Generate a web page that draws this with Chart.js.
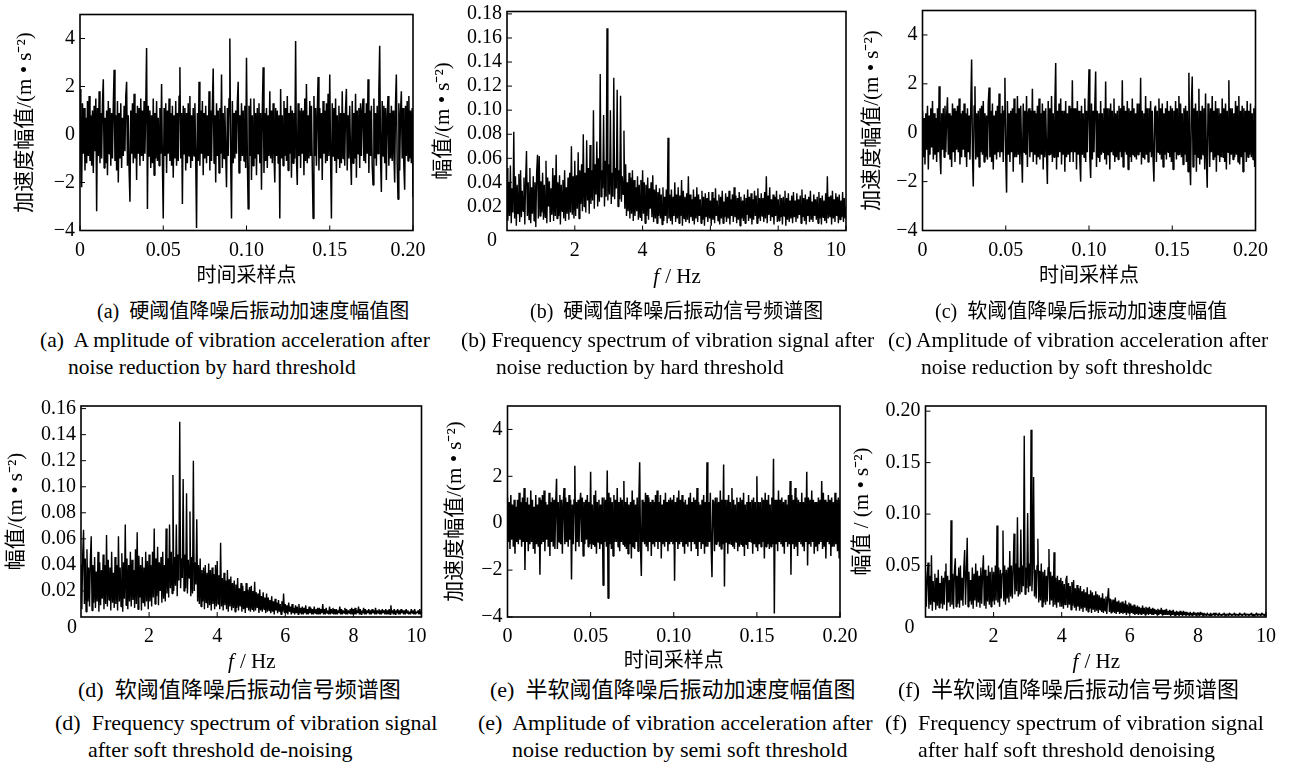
<!DOCTYPE html>
<html><head><meta charset="utf-8">
<script src="https://cdn.jsdelivr.net/npm/chart.js@4.4.1/dist/chart.umd.min.js"></script>
<style>
html,body{margin:0;padding:0;background:#fff;}
body{width:1289px;height:766px;position:relative;overflow:hidden;}
canvas.pc{position:absolute;}
.cap{position:absolute;white-space:pre;color:#000;font-family:"Liberation Serif","Noto Sans CJK SC",serif;line-height:24px;height:24px;}
.zh1{font-size:20px;}
.zh2{font-size:22px;}
.en1{font-size:21.5px;}
.en2{font-size:22px;}
</style></head><body>
<script>
// ---------------- data ----------------
const timeStep = 0.0005;  // s per sample
const freqStep = 0.025;   // Hz per bin

const timeTicks = [0, 0.05, 0.10, 0.15, 0.20];
const timeTickLabels = ['0', '0.05', '0.10', '0.15', '0.20'];
const accTicks = [-4, -2, 0, 2, 4];
const accTickLabels = ['\u22124', '\u22122', '0', '2', '4'];
const freqTicks = [2, 4, 6, 8, 10];
const freqTickLabels = ['2', '4', '6', '8', '10'];
const specTicksB = [0.02, 0.04, 0.06, 0.08, 0.10, 0.12, 0.14, 0.16, 0.18];
const specTickLabelsB = ['0.02', '0.04', '0.06', '0.08', '0.10', '0.12', '0.14', '0.16', '0.18'];
const specTicksD = [0.02, 0.04, 0.06, 0.08, 0.10, 0.12, 0.14, 0.16];
const specTickLabelsD = ['0.02', '0.04', '0.06', '0.08', '0.10', '0.12', '0.14', '0.16'];
const specTicksF = [0.05, 0.10, 0.15, 0.20];
const specTickLabelsF = ['0.05', '0.10', '0.15', '0.20'];

// (a) hard threshold, acceleration (m/s^2), one value per timeStep
const hardTime = [
1.9,-1.0,-2.2,1.3,-0.8,1.1,-1.5,0.7,-1.2,1.4,-0.9,1.6,-1.1,0.8,-1.3,1.0,-1.6,1.2,-0.7,1.5,
-3.2,1.1,-0.9,1.8,-1.2,0.9,-1.0,1.3,2.3,-1.4,0.7,-1.2,1.0,-1.7,1.4,-0.8,1.1,-1.3,0.9,-1.0,
1.2,2.7,-1.1,0.8,-1.5,1.4,-2.0,0.9,-1.0,1.3,-1.4,0.7,-0.9,1.2,-0.7,1.6,2.2,-1.3,0.8,-1.5,
-2.8,1.0,-0.8,1.3,-1.2,1.7,-1.0,0.9,-1.9,1.2,-0.8,1.1,-1.3,1.5,-0.9,1.0,-1.1,1.4,-0.8,1.2,
3.6,-3.1,1.2,-0.9,1.0,-1.4,0.8,-1.2,1.5,-1.7,0.9,-1.0,1.4,-1.1,0.7,-1.3,1.1,-0.8,2.1,-1.2,
-3.5,1.1,-0.9,1.3,-1.6,1.0,-0.8,1.5,-1.1,0.9,-1.3,1.2,-1.8,0.8,-1.0,1.4,-1.3,0.9,-1.1,1.6,
2.8,-1.0,0.9,-2.9,1.2,-0.8,1.1,-1.5,0.9,-1.2,1.3,-0.9,1.6,-1.4,0.8,-1.1,1.1,-0.9,1.3,-1.0,
-3.9,0.9,-1.1,2.2,-1.3,1.0,-0.8,1.4,-1.7,0.9,-1.0,1.2,-1.2,0.8,-0.9,1.8,-1.5,1.0,-1.1,1.2,
2.75,-1.2,0.8,-2.0,1.3,-0.9,1.0,-1.6,1.1,-0.8,2.5,-1.4,0.9,-1.0,1.2,-0.8,-2.2,1.1,-0.9,1.5,
4.0,-1.1,-3.5,1.4,-1.2,0.9,-1.0,1.0,-0.8,1.3,2.2,-1.6,0.8,-1.1,1.3,-0.9,1.0,-1.1,1.2,-1.4,
3.2,-1.0,-3.1,1.2,-0.9,1.5,-1.9,0.8,-1.3,1.5,-1.0,0.9,-1.7,1.1,-0.8,1.3,-1.2,0.9,-2.3,1.0,
2.8,-1.6,0.9,-1.1,1.1,-1.4,0.8,-0.9,1.8,-1.0,1.0,-1.2,1.3,-0.8,-2.0,1.1,-0.9,1.0,-1.2,0.8,
-3.5,1.9,-1.0,0.8,-1.3,1.4,-0.9,1.1,-1.1,1.6,-1.5,0.9,-0.8,1.2,-1.8,1.0,-1.2,0.9,-1.0,3.9,
-1.0,-2.1,1.3,-0.9,1.0,-1.4,1.1,-0.8,1.0,-1.7,1.5,-1.1,2.1,-1.2,0.8,-1.0,1.4,-0.9,1.2,-1.3,
-3.5,1.6,-0.9,1.1,-1.3,0.8,2.4,-1.5,1.1,-1.0,0.9,-1.9,1.4,-0.8,1.0,-1.2,1.3,-1.1,1.7,-0.9,
2.5,-1.0,-3.5,1.3,-0.9,1.1,-1.1,1.5,-1.6,0.8,-1.0,1.2,-1.4,0.9,-1.2,1.8,-1.0,0.9,-1.3,1.1,
1.9,-1.5,0.8,-1.0,1.2,-0.9,-2.1,1.4,-1.2,0.9,-1.0,1.7,-1.8,1.0,-0.8,1.1,-1.4,1.3,-0.9,1.0,
1.5,-1.1,0.9,-1.2,1.3,-0.8,2.3,-1.6,1.0,-0.9,1.2,-1.3,-2.1,1.5,-1.0,0.9,-1.3,1.2,-0.8,1.8,
3.7,-1.0,-2.4,1.4,-0.9,1.2,-1.2,1.1,-1.9,0.8,1.6,-1.3,0.9,-1.0,1.2,-1.1,1.0,-0.8,-2.0,1.3,
2.5,-1.2,-2.7,1.3,-1.5,0.9,1.8,-1.0,1.1,-1.3,-2.3,1.2,-0.9,1.4,-1.1,1.6,-1.0,1.0,-1.2,1.1,
-2.6
];

// (b) hard threshold, spectrum amplitude, one value per freqStep
const hardSpec = [
0.052,0.008,0.040,0.012,0.054,0.006,0.035,0.015,0.082,0.010,0.045,0.004,0.038,0.014,0.047,0.007,0.050,0.011,0.033,0.016,
0.044,0.005,0.042,0.066,0.012,0.040,0.009,0.052,0.006,0.036,0.014,0.045,0.008,0.040,0.003,0.048,0.063,0.010,0.062,0.012,
0.041,0.015,0.048,0.009,0.038,0.011,0.058,0.006,0.044,0.020,0.041,0.007,0.035,0.013,0.052,0.008,0.046,0.012,0.063,0.010,
0.040,0.012,0.046,0.005,0.038,0.016,0.042,0.010,0.050,0.008,0.036,0.014,0.044,0.009,0.048,0.015,0.070,0.013,0.045,0.010,
0.058,0.012,0.046,0.018,0.065,0.010,0.050,0.022,0.055,0.016,0.080,0.020,0.048,0.015,0.075,0.025,0.052,0.014,0.071,0.022,
0.050,0.025,0.100,0.018,0.055,0.030,0.074,0.020,0.060,0.024,0.130,0.028,0.050,0.035,0.096,0.020,0.058,0.028,0.168,0.025,
0.055,0.030,0.100,0.022,0.048,0.028,0.127,0.026,0.052,0.035,0.117,0.020,0.050,0.026,0.112,0.024,0.045,0.030,0.083,0.018,
0.055,0.012,0.040,0.016,0.048,0.010,0.044,0.014,0.050,0.008,0.042,0.012,0.036,0.016,0.045,0.009,0.038,0.011,0.042,0.008,
0.050,0.014,0.040,0.006,0.038,0.012,0.044,0.009,0.035,0.018,0.040,0.011,0.046,0.007,0.034,0.010,0.038,0.006,0.032,0.012,
0.035,0.010,0.030,0.005,0.036,0.008,0.028,0.012,0.034,0.006,0.077,0.010,0.030,0.008,0.034,0.005,0.028,0.012,0.040,0.007,
0.030,0.010,0.036,0.006,0.029,0.012,0.042,0.004,0.033,0.010,0.028,0.007,0.031,0.009,0.045,0.006,0.030,0.011,0.026,0.008,
0.034,0.005,0.028,0.010,0.036,0.007,0.030,0.012,0.026,0.006,0.033,0.009,0.028,0.004,0.031,0.011,0.027,0.007,0.032,0.010,
0.025,0.004,0.032,0.009,0.027,0.006,0.035,0.012,0.025,0.008,0.030,0.005,0.028,0.010,0.033,0.006,0.024,0.011,0.031,0.007,
0.028,0.010,0.033,0.005,0.026,0.012,0.030,0.007,0.036,0.011,0.029,0.006,0.027,0.009,0.032,0.004,0.028,0.010,0.025,0.008,
0.030,0.006,0.027,0.013,0.034,0.008,0.028,0.010,0.031,0.005,0.026,0.009,0.033,0.012,0.029,0.006,0.035,0.010,0.027,0.008,
0.031,0.012,0.027,0.007,0.032,0.010,0.045,0.006,0.029,0.013,0.036,0.008,0.026,0.011,0.030,0.005,0.028,0.012,0.033,0.007,
0.026,0.008,0.030,0.011,0.027,0.005,0.028,0.012,0.033,0.004,0.027,0.009,0.031,0.007,0.025,0.010,0.029,0.006,0.032,0.011,
0.025,0.007,0.031,0.010,0.026,0.013,0.029,0.006,0.034,0.011,0.027,0.008,0.030,0.005,0.026,0.012,0.028,0.007,0.033,0.009,
0.024,0.007,0.030,0.012,0.026,0.009,0.028,0.006,0.032,0.010,0.027,0.005,0.029,0.011,0.025,0.008,0.031,0.006,0.045,0.010,
0.028,0.011,0.029,0.005,0.033,0.010,0.026,0.007,0.031,0.012,0.028,0.006,0.030,0.009,0.025,0.011,0.032,0.007,0.027,0.010,
0.020
];

// (c) soft threshold, acceleration
const softTime = [
0.9,-1.0,0.6,-1.3,0.8,-0.7,1.1,-1.5,0.7,-0.9,1.0,-0.6,1.3,-1.1,0.8,-0.9,0.6,-1.2,1.0,-0.8,
1.9,-0.9,-1.7,0.8,-0.7,1.0,-1.0,1.1,-0.8,0.7,1.45,-0.9,0.8,-1.1,0.7,-1.4,1.2,-0.8,1.0,-1.2,
0.9,-0.7,1.1,-0.8,1.4,-1.3,0.8,-1.0,0.9,-0.7,1.2,-1.0,0.8,-1.4,1.0,-0.8,0.7,-1.1,1.0,3.0,
-0.9,-2.2,1.1,1.9,-1.1,0.8,-1.0,0.9,-1.4,1.0,-0.8,1.1,-0.9,1.3,-1.2,0.8,-1.0,0.7,-1.1,1.2,
1.85,-1.0,0.9,-1.2,1.2,-1.5,0.7,-0.9,0.9,-1.1,1.1,-0.8,1.6,-1.0,0.8,-0.8,1.1,-1.2,0.9,2.25,
-1.0,-2.45,1.3,-0.9,0.8,-1.2,0.9,-0.8,1.0,-1.6,1.4,-1.0,0.8,-1.0,1.5,-0.9,1.0,-1.3,1.1,-0.8,
-2.05,1.2,-0.8,0.9,-0.9,1.5,-1.4,0.8,1.0,-1.0,0.9,-0.8,1.8,-1.2,0.9,-0.9,0.8,-1.3,1.1,-1.0,
1.4,-1.1,0.8,-0.9,1.2,-1.5,0.9,-1.0,1.0,-0.8,-2.1,1.3,-0.9,1.0,-0.9,1.5,-1.2,0.8,-1.0,1.1,
2.85,-1.5,0.9,-1.0,1.2,-0.8,1.4,-1.3,0.9,-0.9,0.9,-1.6,1.3,-1.0,0.8,-0.9,1.1,-1.2,1.0,-0.8,
2.15,-1.2,1.0,-0.8,1.0,-1.5,1.3,-0.9,0.9,-1.1,-2.0,1.1,-0.9,0.8,-1.0,1.4,-1.2,0.9,-0.8,1.0,
2.6,-1.0,-1.85,1.2,-1.1,0.9,-0.8,1.1,2.5,-1.4,0.9,-1.0,0.8,-1.2,1.3,-0.9,0.8,-0.8,1.0,-1.1,
2.1,-1.3,1.0,-0.9,1.0,-1.5,1.2,-0.8,0.9,-0.9,1.4,-1.2,0.8,-1.0,0.9,-1.1,1.1,-0.8,1.0,-1.0,
2.15,-1.4,1.1,-0.8,0.9,-0.9,1.3,-1.5,1.0,-1.0,0.9,-1.2,1.4,-0.9,1.0,-1.0,0.8,-1.1,1.2,-0.9,
1.2,-0.8,2.25,-1.3,0.9,-1.0,0.8,-1.1,1.5,-0.9,1.0,-1.2,1.0,-0.8,1.3,-1.0,0.9,-1.1,-2.0,1.0,
1.1,-1.2,0.9,-0.8,1.4,-0.9,1.0,-1.1,1.2,-1.4,0.8,-0.9,1.0,-1.1,1.3,-0.8,0.9,-1.0,1.1,-1.2,
1.0,-1.5,0.9,-0.8,1.3,-1.1,1.0,-0.9,1.5,-0.9,1.2,-1.0,0.8,-1.3,1.0,-0.9,1.1,-1.2,0.9,-1.6,
2.45,-1.0,-2.15,1.1,2.3,-1.4,1.0,-0.9,1.2,-1.6,0.9,-1.0,1.8,-1.3,0.9,-1.1,1.1,-0.9,1.0,-1.5,
1.6,-1.0,-2.25,1.2,0.9,-1.4,1.0,-0.8,1.5,-1.1,0.9,-1.0,1.3,-1.6,1.0,-0.9,1.0,-1.2,0.8,-1.0,
1.4,-1.0,1.0,-1.2,1.2,-1.5,0.9,-0.8,2.15,-1.3,1.0,-0.9,1.0,-1.1,0.8,-1.0,1.3,-0.9,1.1,-1.2,
1.5,-1.3,0.9,-1.0,1.1,-1.6,1.0,-0.8,0.9,-1.2,1.3,-1.0,0.9,-0.9,1.2,-1.0,0.8,-1.1,1.0,-1.4,
1.1
];

// (d) soft threshold, spectrum amplitude
const softSpec = [
0.040,0.006,0.048,0.067,0.010,0.045,0.004,0.052,0.012,0.038,0.008,0.044,0.062,0.005,0.040,0.011,0.046,0.007,0.035,0.012,
0.050,0.004,0.042,0.009,0.036,0.014,0.048,0.006,0.040,0.010,0.063,0.008,0.044,0.013,0.038,0.005,0.050,0.011,0.034,0.007,
0.046,0.010,0.040,0.005,0.062,0.012,0.038,0.008,0.049,0.004,0.042,0.014,0.071,0.009,0.045,0.006,0.040,0.012,0.050,0.008,
0.044,0.013,0.036,0.007,0.052,0.010,0.065,0.006,0.047,0.015,0.040,0.005,0.046,0.011,0.038,0.008,0.050,0.012,0.043,0.006,
0.048,0.012,0.040,0.008,0.050,0.015,0.068,0.010,0.045,0.016,0.054,0.009,0.042,0.020,0.046,0.011,0.050,0.014,0.040,0.012,
0.068,0.018,0.045,0.015,0.071,0.022,0.050,0.018,0.109,0.020,0.046,0.024,0.071,0.016,0.048,0.028,0.150,0.022,0.045,0.030,
0.106,0.020,0.048,0.022,0.095,0.018,0.044,0.030,0.081,0.016,0.046,0.018,0.120,0.020,0.042,0.025,0.075,0.012,0.040,0.010,
0.045,0.008,0.036,0.012,0.038,0.006,0.040,0.011,0.034,0.007,0.041,0.009,0.036,0.005,0.038,0.010,0.033,0.006,0.040,0.008,
0.043,0.010,0.032,0.006,0.057,0.008,0.030,0.005,0.034,0.009,0.028,0.006,0.036,0.004,0.029,0.008,0.031,0.005,0.026,0.007,
0.028,0.004,0.025,0.007,0.030,0.005,0.022,0.008,0.026,0.004,0.024,0.006,0.020,0.003,0.026,0.007,0.021,0.005,0.023,0.004,
0.024,0.006,0.020,0.004,0.027,0.005,0.019,0.007,0.018,0.003,0.021,0.005,0.016,0.004,0.019,0.006,0.015,0.003,0.018,0.004,
0.015,0.005,0.013,0.003,0.016,0.004,0.012,0.002,0.014,0.005,0.011,0.003,0.013,0.004,0.010,0.002,0.012,0.004,0.018,0.003,
0.010,0.003,0.009,0.002,0.011,0.004,0.008,0.002,0.010,0.003,0.007,0.002,0.009,0.003,0.008,0.002,0.010,0.003,0.007,0.002,
0.008,0.002,0.007,0.003,0.009,0.002,0.006,0.002,0.008,0.003,0.007,0.002,0.006,0.002,0.008,0.003,0.006,0.002,0.007,0.002,
0.007,0.002,0.006,0.003,0.010,0.002,0.006,0.002,0.007,0.003,0.005,0.002,0.008,0.002,0.006,0.003,0.007,0.002,0.006,0.002,
0.006,0.002,0.005,0.003,0.008,0.002,0.006,0.002,0.005,0.003,0.007,0.002,0.006,0.002,0.005,0.003,0.006,0.002,0.007,0.002,
0.006,0.002,0.007,0.002,0.005,0.003,0.008,0.002,0.006,0.002,0.005,0.003,0.007,0.002,0.006,0.002,0.005,0.003,0.006,0.002,
0.005,0.002,0.006,0.003,0.005,0.002,0.007,0.002,0.005,0.003,0.006,0.002,0.005,0.002,0.006,0.003,0.005,0.002,0.006,0.002,
0.005,0.002,0.006,0.002,0.009,0.003,0.005,0.002,0.006,0.002,0.005,0.003,0.006,0.002,0.005,0.002,0.006,0.003,0.005,0.002,
0.005,0.002,0.006,0.003,0.005,0.002,0.004,0.002,0.006,0.003,0.005,0.002,0.006,0.002,0.004,0.003,0.005,0.002,0.006,0.002,
0.003
];

// (e) semi-soft threshold, acceleration
const semiTime = [
1.1,-0.8,0.9,-1.1,1.2,-0.7,0.8,-1.0,1.0,-1.3,0.7,-0.8,1.0,-0.9,1.3,-0.7,0.9,-1.0,1.1,-0.8,
1.5,-2.0,0.9,-0.8,1.1,-1.2,0.8,-0.9,1.4,-0.8,1.0,-1.1,0.7,-1.3,1.2,-0.9,0.8,-1.0,1.1,-2.2,
1.0,-0.9,1.2,-0.8,1.4,-1.2,0.9,-0.7,0.8,-1.0,1.3,-1.4,0.9,-0.8,1.1,-1.0,1.0,-1.1,0.8,1.9,
-1.1,0.9,-0.8,1.2,-0.9,1.0,-1.3,0.8,1.5,-0.9,1.1,-0.8,0.9,-1.0,1.2,-0.7,1.0,-2.4,0.8,-0.9,
1.0,2.45,-1.2,0.9,-0.8,1.0,-1.0,0.8,1.3,-0.8,1.1,-1.4,0.9,-0.9,1.0,-0.7,1.2,-1.0,0.9,-0.9,
2.2,-1.1,0.8,-0.9,1.2,-1.0,1.4,-1.3,0.9,-0.8,1.0,-1.1,0.8,-0.9,1.1,-2.65,1.1,-0.8,1.0,-1.0,
2.25,-3.2,1.3,-0.9,1.1,-1.1,0.9,-1.4,1.2,-0.8,1.0,-0.8,1.5,-1.0,0.9,-1.2,1.1,-0.8,1.0,-0.9,
1.8,-1.0,0.9,-1.1,1.1,-1.3,0.8,-0.9,0.9,-1.5,1.4,-1.0,1.0,-1.1,0.8,-0.8,1.1,-1.2,0.9,2.6,
-1.0,-2.25,1.0,-0.8,0.9,-0.9,1.3,-1.0,1.2,-1.2,1.1,-0.8,0.9,-1.4,1.0,-0.9,0.9,-1.0,1.2,-0.8,
1.4,-1.1,0.9,-0.8,1.2,-1.5,0.8,-0.9,1.0,-1.0,1.3,-0.8,0.9,-1.2,1.0,-0.9,1.1,-0.8,1.0,-0.9,
1.2,-2.45,0.9,-0.8,1.1,-1.1,1.4,-0.9,1.0,-0.8,1.2,-1.0,0.9,-1.3,1.0,-0.9,0.8,-1.0,1.1,-0.8,
1.3,-1.2,0.9,-0.8,1.1,-0.9,1.0,-1.1,1.5,-1.4,0.9,-0.8,0.8,-1.1,1.0,-0.9,1.2,-1.3,0.9,-1.0,
2.6,-1.0,0.9,-0.8,1.3,-1.0,-2.3,1.0,0.9,-1.2,1.1,-0.9,1.1,-0.8,0.9,-1.0,1.4,-1.1,1.0,-0.9,
2.5,-2.7,1.0,-0.8,1.0,-1.3,1.2,-0.9,0.9,-0.9,1.5,-1.0,1.0,-1.1,0.8,-0.8,1.1,-1.2,0.9,-1.0,
1.1,-0.9,1.0,-1.0,1.3,-1.4,0.8,-0.9,0.9,-1.1,1.2,-0.8,0.9,-0.8,1.0,-1.3,1.1,-0.9,0.9,-1.0,
2.0,-1.2,0.9,-0.9,0.9,-1.0,1.1,-0.8,1.0,-1.5,1.3,-1.0,1.0,-0.9,1.2,-1.1,0.8,-1.0,1.1,-0.9,
2.75,-3.85,1.0,-0.9,1.0,-1.2,1.4,-0.8,1.0,-0.9,1.1,-1.0,0.9,-1.3,1.0,-0.8,0.8,-1.0,1.2,-0.9,
1.8,-2.2,1.2,-0.9,1.0,-1.1,1.5,-1.0,1.1,-1.4,1.0,-0.8,0.9,-0.9,1.3,-1.0,0.9,-1.2,1.1,-0.8,
2.2,-1.8,1.1,-0.9,1.0,-1.0,1.4,-0.8,1.0,-1.3,0.9,-1.0,0.9,-1.2,1.1,-0.9,1.0,-0.8,1.8,-1.1,
1.3,-1.0,1.0,-1.5,0.9,-0.8,1.2,-0.9,1.0,-1.4,1.1,-1.0,0.9,-1.0,1.3,-0.9,1.0,-1.2,1.1,-1.5,
1.0
];

// (f) semi-soft threshold, spectrum amplitude
const semiSpec = [
0.045,0.010,0.038,0.053,0.008,0.040,0.012,0.060,0.006,0.035,0.015,0.042,0.007,0.038,0.011,0.046,0.009,0.033,0.013,0.040,
0.008,0.038,0.012,0.044,0.052,0.006,0.040,0.014,0.036,0.010,0.094,0.012,0.042,0.008,0.045,0.057,0.010,0.040,0.013,0.048,
0.009,0.050,0.016,0.038,0.011,0.047,0.065,0.012,0.040,0.077,0.010,0.044,0.015,0.036,0.012,0.048,0.008,0.042,0.016,0.052,
0.010,0.045,0.014,0.040,0.009,0.048,0.013,0.042,0.060,0.011,0.046,0.008,0.040,0.015,0.050,0.012,0.044,0.010,0.048,0.015,
0.044,0.012,0.050,0.016,0.089,0.014,0.048,0.010,0.046,0.018,0.042,0.084,0.015,0.050,0.012,0.046,0.018,0.048,0.014,0.064,
0.020,0.050,0.018,0.046,0.081,0.022,0.052,0.025,0.097,0.020,0.048,0.022,0.085,0.024,0.050,0.030,0.176,0.022,0.048,0.028,
0.101,0.024,0.052,0.030,0.182,0.025,0.048,0.136,0.020,0.046,0.018,0.050,0.076,0.014,0.045,0.016,0.052,0.010,0.044,0.014,
0.046,0.012,0.040,0.015,0.048,0.066,0.012,0.044,0.016,0.040,0.010,0.063,0.012,0.038,0.009,0.040,0.014,0.036,0.010,0.038,
0.010,0.035,0.008,0.032,0.012,0.036,0.040,0.009,0.033,0.012,0.030,0.007,0.034,0.011,0.036,0.009,0.028,0.006,0.031,0.010,
0.028,0.006,0.030,0.008,0.025,0.005,0.027,0.009,0.024,0.006,0.029,0.005,0.022,0.008,0.026,0.004,0.024,0.007,0.021,0.005,
0.025,0.006,0.022,0.004,0.021,0.007,0.019,0.005,0.023,0.004,0.018,0.006,0.020,0.003,0.019,0.028,0.005,0.018,0.004,0.017,
0.005,0.017,0.004,0.019,0.003,0.015,0.005,0.016,0.003,0.014,0.004,0.015,0.003,0.013,0.004,0.016,0.002,0.012,0.004,0.014,
0.003,0.013,0.004,0.011,0.003,0.012,0.002,0.010,0.003,0.011,0.002,0.010,0.003,0.009,0.002,0.011,0.003,0.009,0.002,0.010,
0.003,0.009,0.002,0.010,0.003,0.008,0.002,0.009,0.002,0.008,0.003,0.007,0.002,0.008,0.002,0.007,0.003,0.009,0.002,0.007,
0.002,0.007,0.002,0.008,0.002,0.006,0.002,0.007,0.001,0.006,0.002,0.007,0.002,0.005,0.001,0.006,0.002,0.005,0.001,0.006,
0.002,0.005,0.001,0.006,0.002,0.005,0.001,0.005,0.002,0.004,0.001,0.005,0.002,0.004,0.001,0.005,0.002,0.004,0.001,0.004,
0.002,0.004,0.001,0.005,0.002,0.004,0.001,0.004,0.002,0.003,0.001,0.004,0.002,0.003,0.001,0.004,0.001,0.003,0.002,0.004,
0.001,0.004,0.002,0.003,0.001,0.004,0.002,0.003,0.001,0.003,0.002,0.004,0.001,0.003,0.002,0.003,0.001,0.004,0.002,0.003,
0.001,0.003,0.002,0.004,0.001,0.003,0.002,0.003,0.001,0.004,0.002,0.003,0.001,0.003,0.002,0.004,0.001,0.003,0.002,0.003,
0.001,0.003,0.002,0.004,0.001,0.003,0.001,0.003,0.002,0.004,0.001,0.003,0.002,0.003,0.001,0.004,0.002,0.003,0.001,0.003,
0.002
];

const yTitleAcc = '加速度幅值/(m • s\u207B\u00B2)';
const yTitleAmp = '幅值/(m • s\u207B\u00B2)';
const yTitleAmpF = '幅值 / (m • s\u207B\u00B2)';
const xTitleTime = '时间采样点';
const xTitleFreq = ['f', ' / Hz'];

// ---------------- layout ----------------
const FONT = '"Liberation Serif", "Noto Sans CJK SC", serif';
const panels = [
  {values: hardTime, step: timeStep, xMin: 0, xMax: 0.2, yMin: -4, yMax: 5, lw: 1.5,
   xTicks: timeTicks, xLabels: ['0','0.05','0.10','0.15','0.20\u2002'], yTicks: accTicks, yLabels: accTickLabels,
   yTitle: yTitleAcc, xTitle: xTitleTime,
   box: [0, 0, 440, 292], plot: [80, 14.5, 413, 230.5], yTitleX: 25, xTitleY: 277},
  {values: hardSpec, step: freqStep, xMin: 0, xMax: 10, yMin: 0, yMax: 0.182, lw: 1.4,
   xTicks: freqTicks, xLabels: ['2','4','6','8','10\u2003'], yTicks: specTicksB, yLabels: specTickLabelsB,
   yTitle: yTitleAmp, xRich: xTitleFreq, origin: {text: '0', dx: -15, dy: 10},
   box: [430, 0, 440, 292], plot: [507, 11.5, 846, 230.5], yTitleX: 443, xTitleY: 277},
  {values: softTime, step: timeStep, xMin: 0, xMax: 0.2, yMin: -4, yMax: 5, lw: 1.5,
   xTicks: timeTicks, xLabels: ['0','0.05','0.10','0.15','0.20\u2002'], yTicks: accTicks, yLabels: accTickLabels,
   yTitle: yTitleAcc, xTitle: xTitleTime,
   box: [860, 0, 429, 292], plot: [922.5, 10.5, 1255.5, 230.5], yTitleX: 872, xTitleY: 277},
  {values: softSpec, step: freqStep, xMin: 0, xMax: 10, yMin: 0, yMax: 0.162, lw: 1.4,
   xTicks: freqTicks, xLabels: ['2','4','6','8','10\u2002'], yTicks: specTicksD, yLabels: specTickLabelsD,
   yTitle: yTitleAmp, xRich: xTitleFreq, origin: {text: '0', dx: -9, dy: 11},
   box: [0, 385, 440, 290], plot: [81, 406, 421.5, 617], yTitleX: 16, xTitleY: 662},
  {values: semiTime, step: timeStep, xMin: 0, xMax: 0.2, yMin: -4, yMax: 5, lw: 1.5,
   xTicks: timeTicks, xLabels: timeTickLabels, yTicks: accTicks, yLabels: accTickLabels,
   yTitle: yTitleAcc, xTitle: xTitleTime,
   box: [440, 385, 430, 290], plot: [507.5, 406, 840, 617], yTitleX: 455, xTitleY: 662},
  {values: semiSpec, step: freqStep, xMin: 0, xMax: 10, yMin: 0, yMax: 0.205, lw: 1.4,
   xTicks: freqTicks, xLabels: freqTickLabels, yTicks: specTicksF, yLabels: specTickLabelsF,
   yTitle: yTitleAmpF, xRich: xTitleFreq, origin: {text: '0', dx: -16, dy: 11},
   box: [845, 385, 444, 290], plot: [925.5, 406, 1266, 617], yTitleX: 862, xTitleY: 662}
];

const framePlugin = {
  id: 'frame',
  afterDraw(chart, args, opts) {
    const ctx = chart.ctx;
    const {left, top, right, bottom} = chart.chartArea;
    const xs = chart.scales.x, ys = chart.scales.y;
    ctx.save();
    ctx.strokeStyle = '#000';
    ctx.lineWidth = 1.6;
    ctx.strokeRect(left, top, right - left, bottom - top);
    ctx.lineWidth = 1;
    ctx.beginPath();
    xs.ticks.forEach(t => { const x = xs.getPixelForValue(t.value); ctx.moveTo(x, bottom); ctx.lineTo(x, bottom - 5); });
    ys.ticks.forEach(t => { const y = ys.getPixelForValue(t.value); ctx.moveTo(left, y); ctx.lineTo(left + 5, y); });
    ctx.stroke();
    ctx.fillStyle = '#000';
    if (opts.origin) {
      ctx.font = '20px ' + FONT;
      ctx.textAlign = 'center'; ctx.textBaseline = 'middle';
      ctx.fillText(opts.origin.text, left + opts.origin.dx, bottom + opts.origin.dy);
    }
    if (opts.rich) {
      const [a, b] = opts.rich.parts;
      ctx.textBaseline = 'middle'; ctx.textAlign = 'left';
      ctx.font = 'italic 21px ' + FONT; const wa = ctx.measureText(a).width;
      ctx.font = '21px ' + FONT; const wb = ctx.measureText(b).width;
      const x0 = (left + right) / 2 - (wa + wb) / 2;
      ctx.font = 'italic 21px ' + FONT; ctx.fillText(a, x0, opts.rich.y);
      ctx.font = '21px ' + FONT; ctx.fillText(b, x0 + wa + 1, opts.rich.y);
    }
    ctx.restore();
  }
};

panels.forEach(p => {
  const [cl, ct, cw, ch] = p.box;
  const [pl, pt, pr, pb] = p.plot;
  const cv = document.createElement('canvas');
  cv.className = 'pc';
  cv.width = cw; cv.height = ch;
  cv.style.left = cl + 'px'; cv.style.top = ct + 'px';
  cv.style.width = cw + 'px'; cv.style.height = ch + 'px';
  document.body.appendChild(cv);
  const pts = p.values.map((v, i) => ({x: Math.round(i * p.step * 100000) / 100000, y: v}));
  new Chart(cv, {
    type: 'line',
    data: {datasets: [{data: pts, borderColor: '#000', borderWidth: p.lw, borderJoinStyle: 'bevel',
                       pointRadius: 0, tension: 0, fill: false}]},
    options: {
      responsive: false, animation: false, devicePixelRatio: 1,
      parsing: false, normalized: true,
      layout: {padding: {left: 0, top: pt - ct, right: cl + cw - pr, bottom: 0}},
      plugins: {
        legend: {display: false}, tooltip: {enabled: false},
        frame: {origin: p.origin || null, rich: p.xRich ? {parts: p.xRich, y: p.xTitleY - ct} : null}
      },
      scales: {
        x: {
          type: 'linear', min: p.xMin, max: p.xMax,
          afterBuildTicks: s => { s.ticks = p.xTicks.map(v => ({value: v})); },
          afterFit: s => { s.height = ct + ch - pb; s.paddingLeft = 0; s.paddingRight = 0; },
          grid: {display: false, drawTicks: false}, border: {display: false},
          ticks: {autoSkip: false, maxRotation: 0, minRotation: 0, padding: 8, color: '#000',
                  font: {family: FONT, size: 20}, callback: (v, i) => p.xLabels[i]},
          title: {display: !!p.xTitle, text: p.xTitle || '', color: '#000', font: {family: FONT, size: 20},
                  padding: {top: 0, bottom: (ct + ch) - p.xTitleY - 12}}
        },
        y: {
          type: 'linear', min: p.yMin, max: p.yMax,
          afterBuildTicks: s => { s.ticks = p.yTicks.map(v => ({value: v})); },
          afterFit: s => { s.width = pl - cl; s.paddingTop = 0; s.paddingBottom = 0; },
          grid: {display: false, drawTicks: false}, border: {display: false},
          ticks: {autoSkip: false, padding: 5, color: '#000',
                  font: {family: FONT, size: 20}, callback: (v, i) => p.yLabels[i]},
          title: {display: true, text: p.yTitle, color: '#000', font: {family: FONT, size: 21},
                  padding: {top: p.yTitleX - cl - 12.6, bottom: 0}}
        }
      }
    },
    plugins: [framePlugin]
  });
});

// ---------------- captions ----------------
const captions = [
  ['zh1', 97, 311, '(a)  硬阈值降噪后振动加速度幅值图'],
  ['en1', 40, 340, '(a)  A mplitude of vibration acceleration after'],
  ['en1', 68, 367, 'noise reduction by hard threshold'],
  ['zh1', 530, 311, '(b)  硬阈值降噪后振动信号频谱图'],
  ['en1', 461, 340, '(b) Frequency spectrum of vibration signal after'],
  ['en1', 496, 367, 'noise reduction by hard threshold'],
  ['zh1', 935, 311, '(c)  软阈值降噪后振动加速度幅值'],
  ['en1', 888, 340, '(c) Amplitude of vibration acceleration after'],
  ['en1', 921, 367, 'noise reduction by soft thresholdc'],
  ['zh2', 78, 690, '(d)  软阈值降噪后振动信号频谱图'],
  ['en2', 55, 723, '(d)  Frequency spectrum of vibration signal'],
  ['en2', 88, 750, 'after soft threshold de-noising'],
  ['zh2', 490, 690, '(e)  半软阈值降噪后振动加速度幅值图'],
  ['en2', 478, 723, '(e)  Amplitude of vibration acceleration after'],
  ['en2', 512, 750, 'noise reduction by semi soft threshold'],
  ['zh2', 898, 690, '(f)  半软阈值降噪后振动信号频谱图'],
  ['en2', 885, 723, '(f)  Frequency spectrum of vibration signal'],
  ['en2', 918, 750, 'after half soft threshold denoising']
];
captions.forEach(([cls, x, y, t]) => {
  const d = document.createElement('div');
  d.className = 'cap ' + cls;
  d.style.left = x + 'px';
  d.style.top = (y - 12) + 'px';
  d.textContent = t;
  document.body.appendChild(d);
});
</script>
</body></html>
